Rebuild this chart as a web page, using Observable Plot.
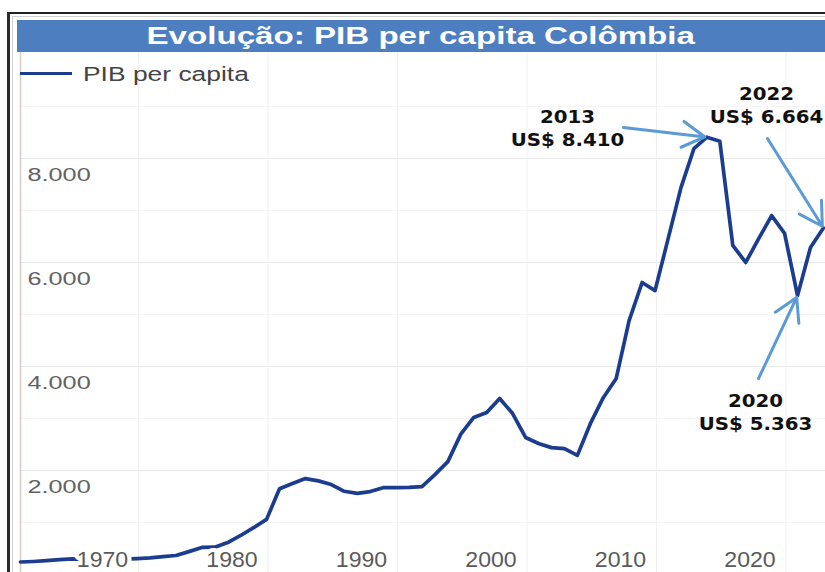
<!DOCTYPE html>
<html>
<head>
<meta charset="utf-8">
<script src="https://cdn.jsdelivr.net/npm/d3@7"></script>
<script src="https://cdn.jsdelivr.net/npm/@observablehq/plot@0.6"></script>
<style>
html,body{margin:0;padding:0;background:#fff;}
body{width:825px;height:572px;overflow:hidden;position:relative;font-family:"Liberation Sans",Arial,sans-serif;}
#chart{position:absolute;left:0;top:0;}
#frame{position:absolute;left:7px;top:12px;width:840px;height:620px;border-top:2px solid #222;border-left:3px solid #2a2a2a;box-sizing:border-box;pointer-events:none;}
#inner{position:absolute;left:12px;top:16px;width:840px;height:620px;border-top:1px solid #d0d0d0;border-left:1px solid #d0d0d0;box-sizing:border-box;pointer-events:none;}
#titlebar{position:absolute;left:17px;top:20px;width:808px;height:32px;background:#4d7ec0;}
#title{position:absolute;left:0;top:0;width:100%;height:32px;line-height:32px;text-align:center;color:#fff;font-weight:bold;font-size:24px;}
#title span{display:inline-block;transform:scaleX(1.38);}
#legline{position:absolute;left:20px;top:72px;width:52px;height:3px;background:#1c3d8f;}
#legtext{position:absolute;left:83px;top:62px;font-size:20px;line-height:24px;color:#444;transform:scaleX(1.32);transform-origin:left center;white-space:nowrap;}
</style>
</head>
<body>
<div id="chart"></div>
<div id="titlebar"><div id="title"><span>Evolução: PIB per capita Colômbia</span></div></div>
<div id="legline"></div>
<div id="legtext">PIB per capita</div>
<div id="inner"></div>
<div id="frame"></div>
<script>
// ---- data ----
const years = [1960,1961,1962,1963,1964,1965,1966,1967,1968,1969,
               1970,1971,1972,1973,1974,1975,1976,1977,1978,1979,
               1980,1981,1982,1983,1984,1985,1986,1987,1988,1989,
               1990,1991,1992,1993,1994,1995,1996,1997,1998,1999,
               2000,2001,2002,2003,2004,2005,2006,2007,2008,2009,
               2010,2011,2012,2013,2014,2015,2016,2017,2018,2019,
               2020,2021,2022];
const gdp = [240,250,265,285,300,290,280,285,295,305,
             320,345,365,440,520,525,615,750,900,1060,
             1650,1750,1845,1800,1730,1600,1560,1595,1670,1670,
             1675,1690,1920,2170,2700,3020,3115,3385,3095,2635,
             2520,2440,2420,2290,2900,3400,3770,4885,5615,5460,
             6450,7440,8190,8410,8330,6330,6000,6460,6900,6560,
             5363,6290,6664];

const xDomain = [1960, 2022.16];
const yDomain = [0, 10038];

const decadeTicks = [1970,1980,1990,2000,2010,2020];
const decadeLabels = ["1970","1980","1990","2000","2010","2020"];
const majorY = [2000,4000,6000,8000];
const majorYLabels = ["2.000","4.000","6.000","8.000"];
const minorY = [1000,3000,5000,7000,9000];

// annotations
const annYears  = [2013, 2022, 2020];
const annValues = [8410, 6664, 5363];
const annLabels = ["2013\nUS$ 8.410", "2022\nUS$ 6.664", "2020\nUS$ 5.363"];
const annTextX  = [2002.24, 2017.6, 2016.76];
const annTextY  = [8606, 9038, 3135];
const annFromX  = [2006.56, 2017.68, 2016.99];
const annFromY  = [8596, 8385, 3769];

const data = years.map((y, i) => ({year: y, value: gdp[i]}));
const annIdx = annYears.map((d, i) => i);

const plot = Plot.plot({
  width: 825,
  height: 580,
  marginLeft: 20,
  marginRight: 0,
  marginTop: 52,
  marginBottom: 6,
  x: {domain: xDomain, axis: null},
  y: {domain: yDomain, axis: null},
  style: {background: "white", overflow: "visible"},
  marks: [
    Plot.ruleY(minorY, {stroke: "#f5f5f5", strokeWidth: 1}),
    Plot.ruleY(majorY, {stroke: "#ebebeb", strokeWidth: 1}),
    Plot.ruleX(decadeTicks, {stroke: "#f0f0f0", strokeWidth: 1, dx: -11.5}),
    Plot.ruleX([xDomain[0]], {stroke: "#d6ccc4", strokeWidth: 1.5}),
    Plot.text(majorYLabels, {
      y: (d, i) => majorY[i], text: d => d, frameAnchor: "left", dx: 7, dy: 16,
      textAnchor: "start", lineAnchor: "middle",
      fontFamily: "Liberation Sans, Arial, sans-serif", fontSize: 19, fill: "#626262"
    }),
    Plot.line(data, {x: "year", y: "value", stroke: "#1c3d8f", strokeWidth: 3.7, strokeLinejoin: "round"}),
    Plot.text(decadeLabels, {
      x: (d, i) => decadeTicks[i], text: d => d, frameAnchor: "bottom", dx: -47.5, dy: -15,
      textAnchor: "middle", lineAnchor: "middle",
      fontFamily: "Liberation Sans, Arial, sans-serif", fontSize: 22, fill: "#5a5a5a",
      stroke: "white", strokeWidth: 8, paintOrder: "stroke"
    }),
    Plot.arrow(annIdx, {
      x1: i => annFromX[i], y1: i => annFromY[i],
      x2: i => annYears[i], y2: i => annValues[i],
      stroke: "#5b9bd5", strokeWidth: 3, headLength: 13, insetEnd: 2
    }),
    Plot.text(annIdx, {
      x: i => annTextX[i], y: i => annTextY[i], text: i => annLabels[i],
      textAnchor: "middle", lineAnchor: "middle", lineHeight: 1.28,
      fontFamily: "DejaVu Sans, Verdana, sans-serif", fontWeight: "bold", fontSize: 18, fill: "#111"
    })
  ]
});

document.getElementById("chart").appendChild(plot);

// horizontal stretch of text groups to match the reference's wide lettering
function stretchGroup(g, s) {
  d3.select(g).selectAll("text").each(function () {
    const t = this.getAttribute("transform");
    if (t) this.setAttribute("transform", t + ` scale(${s},1)`);
    else {
      const x = this.getAttribute("x") || 0, y = this.getAttribute("y") || 0;
      this.removeAttribute("x"); this.removeAttribute("y");
      this.setAttribute("transform", `translate(${x},${y}) scale(${s},1)`);
    }
  });
}
const textGroups = d3.select(plot).selectAll('g[aria-label="text"]').nodes();
const stretches = [1.33, 1.05, 1.1];
textGroups.forEach((g, i) => { if (i < stretches.length) stretchGroup(g, stretches[i]); });
</script>
</body>
</html>
